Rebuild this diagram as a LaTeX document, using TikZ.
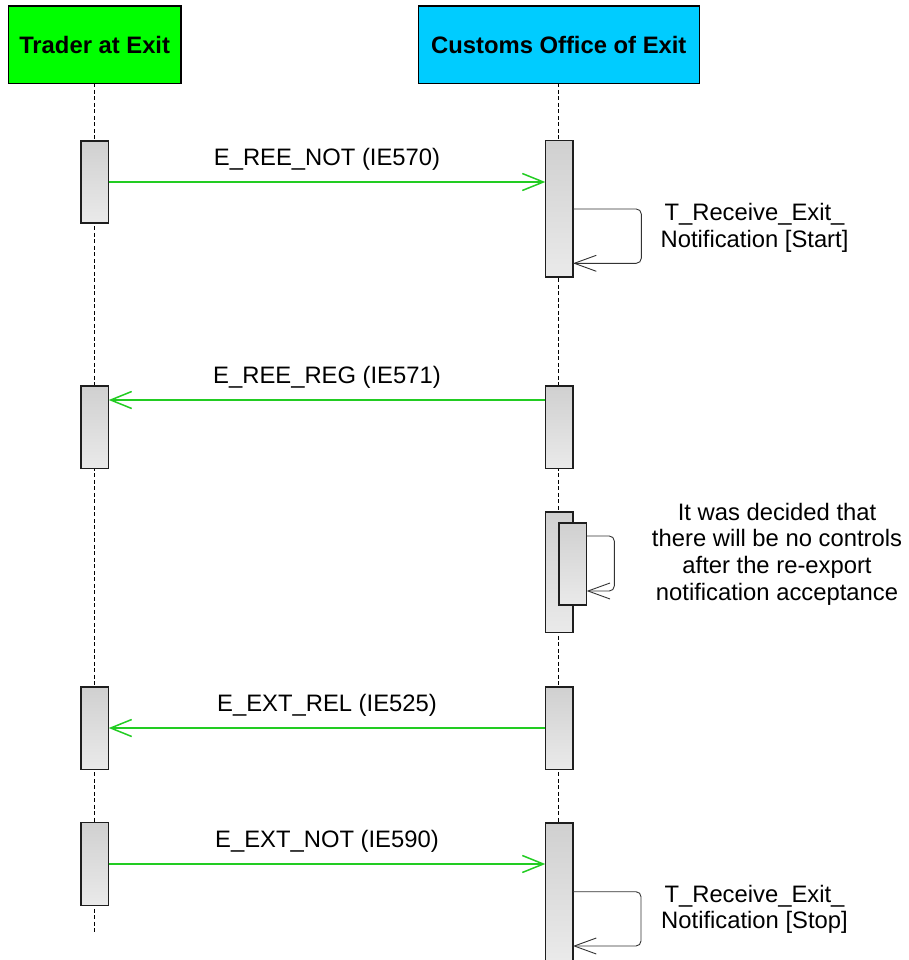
\documentclass[tikz,border=0pt]{standalone}
\usepackage{fontspec}
\setmainfont{Liberation Sans}
\usetikzlibrary{arrows.meta,calc}
\definecolor{hdrgreen}{RGB}{0,255,0}
\definecolor{hdrcyan}{RGB}{0,204,255}
\definecolor{msggreen}{RGB}{34,204,34}
\definecolor{boxtop}{RGB}{208,208,208}
\definecolor{boxbot}{RGB}{234,234,234}
\definecolor{boxline}{RGB}{30,30,30}
\begin{document}
\begin{tikzpicture}[x=1pt,y=-1pt,
  every node/.style={inner sep=0pt, outer sep=0pt},
  header/.style={draw=black, line width=1.3pt, font=\fontsize{23.8}{27}\selectfont\bfseries, text height=17pt, text depth=0pt, minimum height=77.3pt},
  lifeline/.style={draw=black, line width=1pt, dash pattern=on 4pt off 2.5pt},
  act/.style={draw=boxline, line width=1.3pt, top color=boxtop, bottom color=boxbot, minimum width=27.7pt},
  msg/.style={draw=msggreen, line width=1.5pt, -{Straight Barb[length=21pt,width=17pt]}},
  selfmsg/.style={draw=black!80, line width=0.9pt, rounded corners=5pt, -{Straight Barb[length=22pt,width=16pt]}},
  lbl/.style={font=\fontsize{23.8}{26.8}\selectfont, align=center}
]
\useasboundingbox (0,0) rectangle (908,960);

% headers
\node[header, fill=hdrgreen, minimum width=172.7pt] (H1) at (94.65,44.65) {Trader at Exit};
\node[header, fill=hdrcyan, minimum width=281pt] (H2) at (558.8,44.65) {Customs Office of Exit};

% lifelines
\coordinate (E1) at (94.65,933);
\coordinate (E2) at (558.8,960);
\draw[lifeline] (H1.south) -- (E1);
\draw[lifeline] (H2.south) -- (E2);

% activations, left
\node[act, minimum height=82pt]   (L1) at (94.85,182) {};
\node[act, minimum height=82.7pt] (L2) at (94.85,427.35) {};
\node[act, minimum height=82.3pt] (L3) at (94.85,728) {};
\node[act, minimum height=82.7pt] (L4) at (94.85,864) {};

% activations, right
\node[act, minimum height=136.3pt] (R1) at (559.15,208.85) {};
\node[act, minimum height=82.7pt]  (R2) at (559.15,427.35) {};
\node[act, minimum height=120.3pt] (R3) at (559.15,572.15) {};
\node[act, minimum height=82pt]    (R3i) at (572.85,564) {};
\node[act, minimum height=82.3pt]  (R4) at (559.15,728) {};
\node[act, draw=none, minimum height=137pt] (R5) at (559.15,891.5) {};
\draw[draw=boxline, line width=1.3pt] (R5.south west) -- (R5.north west) -- (R5.north east) -- (R5.south east);

% messages
\draw[msg] (L1.east) -- (L1.east -| R1.west);
\draw[msg] ([yshift=-14pt]R2.north west) -- ([yshift=-14pt]R2.north west -| L2.east);
\draw[msg] (R4.west) -- (L3.east);
\draw[msg] (L4.east) -- (L4.east -| R5.west);

\node[lbl, anchor=base] (t1) at (327,165)   {E\_REE\_NOT (IE570)};
\node[lbl, anchor=base] (t2) at (327,383.3) {E\_REE\_REG (IE571)};
\node[lbl, anchor=base] (t3) at (327,711.3) {E\_EXT\_REL (IE525)};
\node[lbl, anchor=base] (t4) at (327,847.6) {E\_EXT\_NOT (IE590)};

% self messages
\draw[selfmsg] ([yshift=-68.3pt]R1.north east) -- ++(68.3,0) -- ++(0,54.3) -- ++(-68.3,0);
\draw[selfmsg] ([yshift=-13pt]R3i.north east) -- ++(27.6,0) -- ++(0,55) -- ++(-27.6,0);
\draw[selfmsg] ([yshift=-68.7pt]R5.north east) -- ++(68,0) -- ++(0,54.3) -- ++(-68,0);

\node[lbl, anchor=base] (n1) at (754.5,247.3) {T\_Receive\_Exit\_\\Notification [Start]};
\node[lbl, anchor=base] (n2) at (777,600.5) {It was decided that\\there will be no controls\\after the re-export\\notification acceptance};
\node[lbl, anchor=base] (n3) at (754.5,928.8) {T\_Receive\_Exit\_\\Notification [Stop]};
\end{tikzpicture}
\end{document}
